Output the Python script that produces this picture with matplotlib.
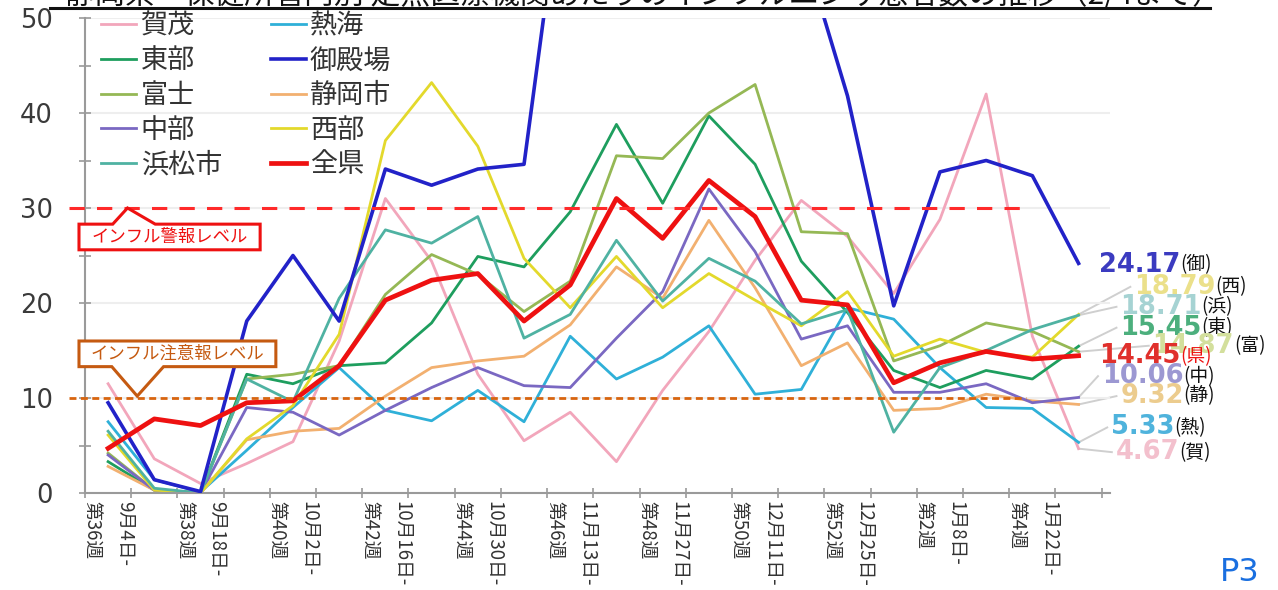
import matplotlib
matplotlib.use("Agg")
import matplotlib.pyplot as plt
from matplotlib.patches import Polygon
from matplotlib.transforms import ScaledTranslation

plt.rcParams['font.family'] = ['Noto Sans CJK JP', 'DejaVu Sans']

week_labels = ["第36週", "第38週", "第40週", "第42週", "第44週", "第46週",
               "第48週", "第50週", "第52週", "第2週", "第4週"]
date_labels = ["9月4日-", "9月18日-", "10月2日-", "10月16日-", "10月30日-",
               "11月13日-", "11月27日-", "12月11日-", "12月25日-", "1月8日-", "1月22日-"]

kamo = [11.5, 3.6, 1.0, 3.1, 5.4, 16.0, 31.0, 24.4, 12.5, 5.5, 8.5,
        3.3, 10.8, 17.0, 24.5, 30.8, 27.0, 21.0, 28.8, 42.0, 16.5, 4.67]
atami = [7.5, 1.4, 0.1, 4.5, 9.0, 13.2, 8.7, 7.6, 10.8, 7.5, 16.5,
         12.0, 14.3, 17.6, 10.4, 10.9, 19.5, 18.3, 13.2, 9.0, 8.9, 5.33]
tobu = [3.3, 0.3, 0.0, 12.5, 11.5, 13.4, 13.7, 17.9, 24.9, 23.8, 29.6,
        38.8, 30.5, 39.7, 34.6, 24.4, 19.0, 12.9, 11.1, 12.9, 12.0, 15.45]
gotemba = [9.5, 1.4, 0.15, 18.1, 25.0, 18.1, 34.1, 32.4, 34.1, 34.6, 71.0,
           80.0, 85.0, 82.0, 75.0, 58.0, 41.8, 19.7, 33.8, 35.0, 33.4, 24.17]
fuji = [4.2, 0.3, 0.0, 12.0, 12.5, 13.4, 20.9, 25.1, 23.0, 19.1, 22.3,
        35.5, 35.2, 40.0, 43.0, 27.5, 27.3, 13.9, 15.5, 17.9, 17.0, 14.87]
shizuoka = [2.8, 0.3, 0.0, 5.6, 6.5, 6.8, 10.2, 13.2, 13.9, 14.4, 17.7,
            23.8, 20.5, 28.7, 21.6, 13.4, 15.8, 8.7, 8.9, 10.4, 9.7, 9.32]
chubu = [4.0, 0.3, 0.0, 9.0, 8.5, 6.1, 8.7, 11.1, 13.2, 11.3, 11.1,
         16.3, 21.2, 32.0, 25.4, 16.2, 17.6, 10.6, 10.6, 11.5, 9.5, 10.06]
seibu = [6.1, 0.3, 0.0, 5.7, 9.2, 16.7, 37.1, 43.2, 36.5, 24.7, 19.5,
         24.9, 19.5, 23.1, 20.3, 17.6, 21.2, 14.4, 16.2, 14.8, 14.3, 18.79]
hamamatsu = [6.5, 0.5, 0.0, 12.0, 9.6, 20.5, 27.7, 26.3, 29.1, 16.3, 18.8,
             26.6, 20.2, 24.7, 22.3, 17.8, 19.3, 6.4, 13.2, 15.0, 17.2, 18.71]
zenken = [4.7, 7.8, 7.1, 9.5, 9.7, 13.4, 20.3, 22.4, 23.1, 18.1, 21.9,
          31.0, 26.8, 32.9, 29.1, 20.3, 19.8, 11.6, 13.7, 14.9, 14.1, 14.45]

warning_level = 30
caution_level = 10

# name, data, line colour, width, end-label colour, short name, label pos (x, y)
series = [
    ("賀茂", kamo, "#f2a6bb", 2.0, "#f3c0cd", "賀", (21.8, 4.3)),
    ("熱海", atami, "#2fb0d8", 2.0, "#4fb3dc", "熱", (21.7, 6.9)),
    ("東部", tobu, "#1e9e5e", 2.0, "#4caf7d", "東", (21.9, 17.4)),
    ("御殿場", gotemba, "#2222c8", 2.6, "#3b3bc0", "御", (21.45, 24.0)),
    ("富士", fuji, "#95b855", 2.0, "#d3df9c", "富", (22.6, 15.5)),
    ("静岡市", shizuoka, "#f2b070", 2.0, "#eccc8e", "静", (21.9, 10.2)),
    ("中部", chubu, "#7a68c2", 2.0, "#9c98d2", "中", (21.5, 12.3)),
    ("西部", seibu, "#e3d92c", 2.0, "#ebe08a", "西", (22.2, 21.7)),
    ("浜松市", hamamatsu, "#4fb2a2", 2.0, "#a6d3d3", "浜", (21.9, 19.6)),
    ("全県", zenken, "#ee1111", 3.4, "#e0302c", "県", (21.45, 14.4)),
]

fig = plt.figure(figsize=(12.78, 5.90), dpi=100)
ax = fig.add_axes([85 / 1278, 97 / 590, 1025 / 1278, 475 / 590])

x = list(range(len(zenken)))
lines = {}
for name, vals, col, lw, lcol, short, pos in series:
    z = 5 if name == "全県" else (4 if name == "御殿場" else 2)
    ln, = ax.plot(x, vals, color=col, lw=lw, label=name, zorder=z)
    lines[name] = ln

ax.set_xlim(-0.5, 21.68)
ax.set_ylim(0, 50)

# axes styling
for s in ["top", "right"]:
    ax.spines[s].set_visible(False)
for s in ["left", "bottom"]:
    ax.spines[s].set_color("#9a9a9a")
    ax.spines[s].set_linewidth(1.5)
ax.set_yticks(range(0, 51, 10))
ax.set_yticks(range(5, 50, 10), minor=True)
ax.tick_params(axis="y", which="both", direction="inout", length=8,
               color="#9a9a9a", width=1.2, labelsize=18.5, pad=19,
               labelcolor="#3a3a3a")
for lab in ax.get_yticklabels():
    lab.set_fontfamily("DejaVu Sans")
ax.yaxis.grid(True, color="#eeeeee", lw=1.5, zorder=0)

ax.set_xticks([v - 0.5 for v in range(len(zenken) + 1)], minor=True)
ax.set_xticks(range(0, len(zenken), 2))
ax.set_xticklabels([d + "\n" + w for w, d in zip(week_labels, date_labels)],
                   rotation=-90, fontsize=13.5, color="#333333",
                   va="top", ha="center", linespacing=1.75,
                   multialignment="left")
shift = ScaledTranslation(-5 / 100, 0, fig.dpi_scale_trans)
for lab in ax.get_xticklabels():
    lab.set_transform(lab.get_transform() + shift)
ax.tick_params(axis="x", which="major", length=0, pad=6)
ax.tick_params(axis="x", which="minor", direction="inout", length=7,
               color="#9a9a9a", width=1.2)

# warning / caution level lines
ax.plot([-0.85, 19.87], [warning_level] * 2, color="#ff2a2a", lw=2.2,
        dashes=(5, 4), clip_on=False, zorder=6)
ax.plot([-0.85, 19.87], [caution_level] * 2, color="#d8650f", lw=2.0,
        dashes=(2.5, 1.6), clip_on=False, zorder=6)


def callout(x0, x1, yb, yt, tip, base, up, color, text):
    tx, ty = tip
    b0, b1 = base
    if up:
        pts = [(x0, yt), (b0, yt), (tx, ty), (b1, yt), (x1, yt), (x1, yb), (x0, yb)]
    else:
        pts = [(x0, yt), (x1, yt), (x1, yb), (b1, yb), (tx, ty), (b0, yb), (x0, yb)]
    ax.add_patch(Polygon(pts, closed=True, fc="white", ec=color, lw=2.2,
                         clip_on=False, zorder=7))
    ax.text((x0 + x1) / 2, (yb + yt) / 2, text, color=color, fontsize=12.5,
            ha="center", va="center", zorder=8)


callout(-0.63, 3.29, warning_level - 4.4, warning_level - 1.7,
        (0.42, warning_level), (0.1, 1.02), True, "#ee1111", "インフル警報レベル")
callout(-0.63, 3.63, caution_level + 3.3, caution_level + 6.0,
        (0.63, caution_level + 0.2), (0.08, 1.2), False, "#c55a11",
        "インフル注意報レベル")

# legend
order = ["賀茂", "東部", "富士", "中部", "浜松市", "熱海", "御殿場", "静岡市", "西部", "全県"]
leg = ax.legend([lines[n] for n in order], order, loc="upper left",
                bbox_to_anchor=(0.0, 1.045), ncol=2, frameon=False,
                fontsize=19.5, handlelength=1.3, handletextpad=0.15,
                columnspacing=1.8, labelspacing=0.28, borderaxespad=0.2)
for t in leg.get_texts():
    t.set_color("#333333")

# end labels
for name, vals, col, lw, lcol, short, (lx, ly) in series:
    last = vals[-1]
    if abs(lx - 21.45) > 0.1 or abs(ly - last) > 0.6:
        ax.plot([21, lx - 0.08], [last, ly], color="#cfcfcf", lw=1.4,
                clip_on=False, zorder=1)
    num = ax.text(lx, ly, f"{last:.2f}", color=lcol, fontsize=18.5,
                  fontweight="bold", family="DejaVu Sans", ha="left",
                  va="center", clip_on=False, zorder=9)
    ax.annotate(f"({short})", xy=(1, 0.5), xycoords=num, va="center",
                ha="left", fontsize=13.5, annotation_clip=False,
                color="#ee1111" if name == "全県" else "#111111", zorder=9)

# title (cut off at the top edge) and page number
fig.text(0.5 + 4 / 1278, 1 - 4 / 590,
         "静岡県・保健所管内別 定点医療機関あたりのインフルエンザ患者数の推移（2/4まで）",
         ha="center", va="baseline", fontsize=21.5, color="#111111")
fig.add_artist(plt.Line2D([50 / 1278, 1210 / 1278], [1 - 8 / 590] * 2,
                          color="#111111", lw=2.2))
fig.text(1220 / 1278, 2 / 590, "P3", color="#1a6fe0", fontsize=23,
         family="DejaVu Sans", ha="left", va="bottom")

fig.savefig("out.png", dpi=100)
